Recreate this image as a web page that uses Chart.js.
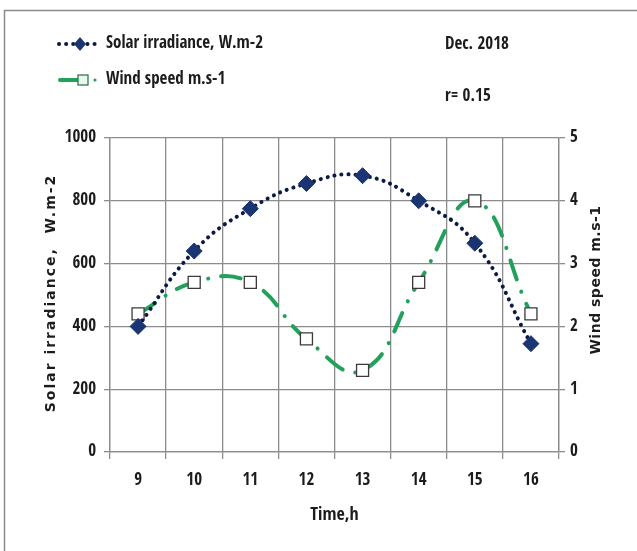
<!DOCTYPE html>
<html>
<head>
<meta charset="utf-8">
<title>Solar irradiance and wind speed, Dec. 2018</title>
<script src="https://cdn.jsdelivr.net/npm/chart.js@4.4.1/dist/chart.umd.min.js"></script>
<style>
  html, body { margin: 0; padding: 0; background: #ffffff; }
  #wrap { width: 637px; height: 551px; }
</style>
</head>
<body>
<div id="wrap"><canvas id="chart" width="637" height="551"></canvas></div>
<script>
// Hourly readings
const hours = ['9', '10', '11', '12', '13', '14', '15', '16'];
const solarIrradiance = [400, 640, 775, 855, 880, 800, 665, 345];   // W.m-2
const windSpeed = [2.2, 2.7, 2.7, 1.8, 1.3, 2.7, 4.0, 2.2];           // m.s-1

// Axis ranges
const solarRange = { min: 0, max: 1000, step: 200 };
const windRange = { min: 0, max: 5, step: 1 };

// Text
const solarLabel = 'Solar irradiance, W.m-2';
const windLabel = 'Wind speed m.s-1';
const solarAxisTitle = 'Solar irradiance,  W.m-2';
const windAxisTitle = 'Wind speed m.s-1';
const timeAxisTitle = 'Time,h';
const periodNote = 'Dec. 2018';
const correlationNote = 'r= 0.15';

const NARROW = "'Open Sans Condensed', 'Roboto Condensed', 'DejaVu Sans Condensed', sans-serif";
const WIDE_BOLD = "'DejaVu Sans', Verdana, sans-serif";
const GRID = '#8c8c8c';
const INK = '#1c1c1c';
const NAVY = '#1b3573';
const NAVY_DOT = '#0c1b45';
const GREEN = '#21a15a';

const solarStyle = {
  borderColor: NAVY_DOT, borderWidth: 4, borderDash: [0.1, 7], borderCapStyle: 'round',
  pointStyle: 'rectRot', pointRadius: 8, pointBackgroundColor: NAVY, pointBorderColor: NAVY, pointBorderWidth: 1
};
const windStyle = {
  borderColor: GREEN, borderWidth: 4, borderDash: [20, 13, 0.1, 13], borderCapStyle: 'round',
  pointStyle: 'rect', pointRadius: 8.5, pointBackgroundColor: '#ffffff', pointBorderColor: '#3a3a3a', pointBorderWidth: 1.3
};

// Frame, legend, notes and axis titles drawn around the plot
const decorations = {
  id: 'decorations',
  beforeDraw(chart) {
    const ctx = chart.ctx;
    ctx.save();
    ctx.fillStyle = '#ffffff';
    ctx.fillRect(0, 0, chart.width, chart.height);
    ctx.strokeStyle = '#8a8a8a';
    ctx.lineWidth = 1.5;
    ctx.strokeRect(4.5, 10.5, chart.width + 10, chart.height + 10);
    ctx.restore();
  },
  afterDraw(chart) {
    const ctx = chart.ctx;
    const area = chart.chartArea;
    ctx.save();

    // legend entry 1: dotted navy line with a diamond
    ctx.strokeStyle = NAVY_DOT;
    ctx.lineWidth = 4;
    ctx.lineCap = 'round';
    ctx.setLineDash([0.1, 7]);
    ctx.beginPath(); ctx.moveTo(59, 44); ctx.lineTo(101, 44); ctx.stroke();
    ctx.setLineDash([]);
    ctx.fillStyle = NAVY;
    ctx.beginPath();
    ctx.moveTo(80, 37); ctx.lineTo(86, 44); ctx.lineTo(80, 51); ctx.lineTo(74, 44); ctx.closePath();
    ctx.fill();

    // legend entry 2: green dash-dot with a square
    ctx.strokeStyle = GREEN;
    ctx.lineWidth = 4;
    ctx.lineCap = 'round';
    ctx.beginPath(); ctx.moveTo(60, 80); ctx.lineTo(78, 80); ctx.stroke();
    ctx.fillStyle = GREEN;
    ctx.beginPath(); ctx.arc(95, 80, 1.6, 0, Math.PI * 2); ctx.fill();
    ctx.fillStyle = '#e9f7ee';
    ctx.strokeStyle = '#2f7d4c';
    ctx.lineWidth = 1.3;
    ctx.fillRect(78, 75, 10, 10);
    ctx.strokeRect(78, 75, 10, 10);

    // legend and note text
    ctx.fillStyle = INK;
    ctx.textBaseline = 'middle';
    ctx.textAlign = 'left';
    ctx.font = 'bold 17px ' + NARROW;
    ctx.fillText(solarLabel, 106, 44);
    ctx.fillText(windLabel, 106, 80);
    ctx.fillText(periodNote, 445, 45);
    ctx.fillText(correlationNote, 445, 97);

    // x axis title
    ctx.textAlign = 'center';
    ctx.font = 'bold 18px ' + NARROW;
    ctx.fillText(timeAxisTitle, (area.left + area.right) / 2, 515);

    // left axis title
    ctx.font = 'bold 14px ' + WIDE_BOLD;
    ctx.letterSpacing = '2px';
    ctx.save();
    ctx.translate(51, 293);
    ctx.rotate(-Math.PI / 2);
    ctx.fillText(solarAxisTitle, 0, 0);
    ctx.restore();

    // right axis title, reading upward like the left one
    ctx.letterSpacing = '0.5px';
    ctx.save();
    ctx.translate(596, 280);
    ctx.rotate(-Math.PI / 2);
    ctx.fillText(windAxisTitle, 0, 0);
    ctx.restore();

    ctx.restore();
  }
};

const tickFont = { family: NARROW, size: 17, weight: 'bold' };
const plainNumber = (value) => String(value);

new Chart(document.getElementById('chart'), {
  type: 'line',
  data: {
    labels: hours,
    datasets: [
      Object.assign({ label: solarLabel, data: solarIrradiance, yAxisID: 'y', tension: 0.45, fill: false }, solarStyle),
      Object.assign({ label: windLabel, data: windSpeed, yAxisID: 'y1', tension: 0.45, fill: false }, windStyle)
    ]
  },
  options: {
    responsive: false,
    animation: false,
    events: [],
    layout: { padding: { top: 138, left: 0, right: 0, bottom: 0 } },
    plugins: { legend: { display: false }, tooltip: { enabled: false } },
    scales: {
      x: {
        type: 'category',
        offset: true,
        grid: { offset: true, color: GRID, lineWidth: 1.3, tickLength: 7, tickColor: GRID },
        border: { color: GRID, width: 1.3 },
        ticks: { font: tickFont, color: INK, padding: 11, maxRotation: 0 },
        afterFit(scale) { scale.height = 99; }
      },
      y: {
        position: 'left',
        min: solarRange.min, max: solarRange.max,
        grid: { color: GRID, lineWidth: 1.3, tickLength: 6, tickColor: GRID },
        border: { color: GRID, width: 1.3 },
        ticks: { stepSize: solarRange.step, font: tickFont, color: INK, padding: 8, callback: plainNumber },
        afterFit(scale) { scale.width = 110; }
      },
      y1: {
        position: 'right',
        min: windRange.min, max: windRange.max,
        grid: { drawOnChartArea: false, color: GRID, lineWidth: 1.3, tickLength: 6, tickColor: GRID },
        border: { color: GRID, width: 1.3 },
        ticks: { stepSize: windRange.step, font: tickFont, color: INK, padding: 5, callback: plainNumber },
        afterFit(scale) { scale.width = 78; }
      }
    }
  },
  plugins: [decorations]
});
</script>
</body>
</html>
